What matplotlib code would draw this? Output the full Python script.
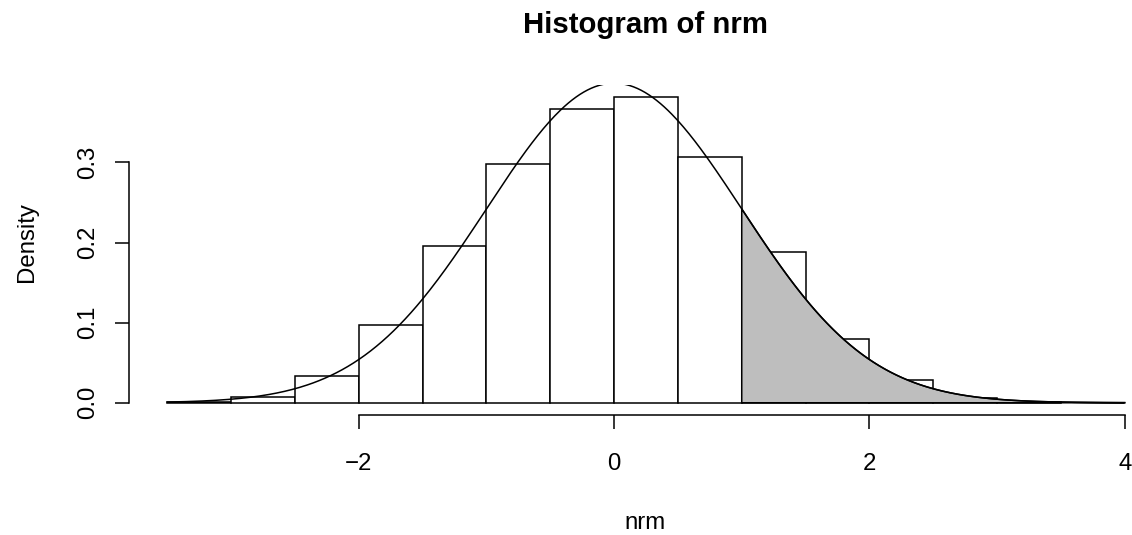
import numpy as np
import matplotlib
matplotlib.use("Agg")
import matplotlib.pyplot as plt
from matplotlib.ticker import FormatStrFormatter

plt.rcParams['font.family'] = ['Liberation Sans', 'DejaVu Sans']

# histogram of nrm, density scale, bin width 0.5
bin_edges = [-3.5, -3.0, -2.5, -2.0, -1.5, -1.0, -0.5, 0.0, 0.5, 1.0, 1.5, 2.0, 2.5, 3.0, 3.5]
densities = [0.001, 0.007, 0.0335, 0.0975, 0.1955, 0.298, 0.3665, 0.382,
             0.3065, 0.188, 0.0795, 0.029, 0.0065, 0.001]

# normal density overlay and shaded upper tail
curve_mean = 0.0
curve_sd = 1.0
curve_from, curve_to = -3.5, 4.0
shade_from, shade_to = 1.0, 4.0

x_ticks = [-2, 0, 2, 4]
y_ticks = [0.0, 0.1, 0.2, 0.3]


def dens(x):
    return np.exp(-0.5 * ((x - curve_mean) / curve_sd) ** 2) / (curve_sd * np.sqrt(2 * np.pi))


W, H = 1132, 535
fig = plt.figure(figsize=(W / 100, H / 100), dpi=100)
ax = fig.add_axes([129 / W, (H - 415) / H, 1034 / W, 330.5 / H])
lw = 1.1

edges = np.array(bin_edges)
ax.bar(edges[:-1], densities, width=np.diff(edges), align='edge',
       facecolor='white', edgecolor='black', linewidth=lw)

xs = np.linspace(shade_from, shade_to, 300)
poly_x = np.concatenate([[shade_from], xs, [shade_to]])
poly_y = np.concatenate([[0], dens(xs), [0]])
ax.fill(poly_x, poly_y, facecolor='#bebebe', edgecolor='black', linewidth=lw)

cx = np.linspace(curve_from, curve_to, 500)
ax.plot(cx, dens(cx), color='black', linewidth=lw)

lo, hi = curve_from, curve_to
ax.set_xlim(lo - 0.04 * (hi - lo), hi + 0.04 * (hi - lo))
m = max(densities)
ax.set_ylim(-0.04 * m, 1.04 * m)

for s in ['top', 'right']:
    ax.spines[s].set_visible(False)
for s in ['bottom', 'left']:
    ax.spines[s].set_linewidth(lw)
ax.spines['bottom'].set_bounds(x_ticks[0], x_ticks[-1])
ax.spines['left'].set_bounds(y_ticks[0], y_ticks[-1])

ax.set_xticks(x_ticks)
ax.set_yticks(y_ticks)
ax.yaxis.set_major_formatter(FormatStrFormatter('%.1f'))
ax.tick_params(axis='both', length=10.4, width=lw, labelsize=17.3, color='black')
ax.tick_params(axis='x', pad=29.5)
ax.tick_params(axis='y', pad=14.8)
for t in ax.get_xticklabels():
    t.set_va('baseline')
for t in ax.get_yticklabels():
    t.set_rotation(90)
    t.set_rotation_mode('anchor')
    t.set_ha('center')
    t.set_va('baseline')

fig.text(645.5 / W, 1 - 33.3 / H, 'Histogram of nrm', ha='center', va='baseline',
         fontsize=21.2, fontweight='bold')
fig.text(645.5 / W, 1 - 529 / H, 'nrm', ha='center', va='baseline', fontsize=17.3)
fig.text(32.7 / W, 1 - 242.4 / H, 'Density', ha='center', va='baseline',
         rotation=90, rotation_mode='anchor', fontsize=17.3)

fig.savefig('out.png', dpi=100)
